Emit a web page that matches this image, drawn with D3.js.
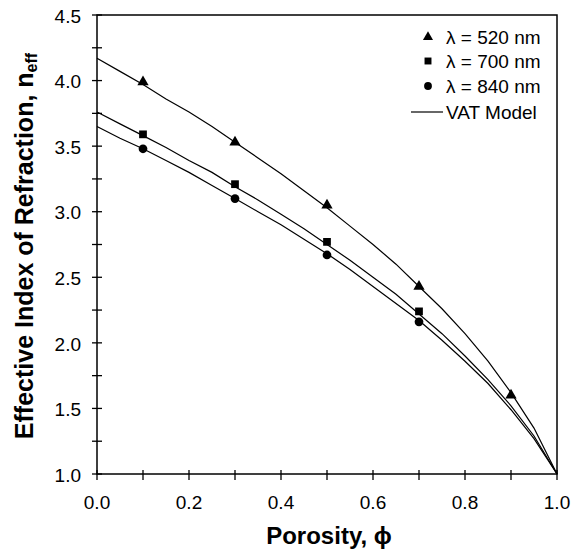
<!DOCTYPE html>
<html>
<head>
<meta charset="utf-8">
<script src="https://cdn.jsdelivr.net/npm/d3@7/dist/d3.min.js"></script>
<style>
  body { margin: 0; background: #fff; }
  svg { display: block; font-family: "Liberation Sans", Arial, sans-serif; }
</style>
</head>
<body>
<div id="chart"></div>
<script>
// measured points (porosity vs n_eff)
const phiMeas = [0.1, 0.3, 0.5, 0.7, 0.9];
const n520 = [3.99, 3.53, 3.05, 2.43, 1.60];
const n700 = [3.59, 3.21, 2.77, 2.24];
const n840 = [3.48, 3.10, 2.67, 2.16];

// VAT model curves
const phiModel = [0, 0.05, 0.1, 0.15, 0.2, 0.25, 0.3, 0.35, 0.4, 0.45, 0.5,
                  0.55, 0.6, 0.65, 0.7, 0.75, 0.8, 0.85, 0.9, 0.95, 1.0];
const vat520 = [4.17, 4.07, 3.97, 3.86, 3.76, 3.65, 3.53, 3.41, 3.29, 3.16, 3.03,
                2.89, 2.75, 2.60, 2.43, 2.26, 2.07, 1.86, 1.62, 1.35, 1.0];
const vat700 = [3.76, 3.67, 3.58, 3.49, 3.39, 3.30, 3.19, 3.09, 2.98, 2.87, 2.75,
                2.63, 2.50, 2.37, 2.22, 2.07, 1.90, 1.72, 1.52, 1.29, 1.0];
const vat840 = [3.65, 3.56, 3.48, 3.39, 3.30, 3.20, 3.10, 3.00, 2.90, 2.79, 2.68,
                2.56, 2.43, 2.30, 2.17, 2.02, 1.86, 1.69, 1.49, 1.27, 1.0];

const legendLabels = ['λ = 520 nm', 'λ = 700 nm', 'λ = 840 nm', 'VAT Model'];

const width = 580, height = 550;
const margin = { top: 15, right: 23, bottom: 76, left: 97 };

const svg = d3.select('#chart').append('svg')
    .attr('width', width)
    .attr('height', height);

const x = d3.scaleLinear().domain([0, 1]).range([margin.left, width - margin.right]);
const y = d3.scaleLinear().domain([1, 4.5]).range([height - margin.bottom, margin.top]);

// frame
svg.append('rect')
    .attr('x', x(0)).attr('y', y(4.5))
    .attr('width', x(1) - x(0)).attr('height', y(1) - y(4.5))
    .style('fill', 'none').style('stroke', '#000').style('stroke-width', 1.5);

// x axis: labels every 0.2, ticks every 0.1
svg.append('g').selectAll('line')
    .data(d3.range(0, 1.0001, 0.1))
    .enter().append('line')
    .attr('x1', d => x(d)).attr('x2', d => x(d))
    .attr('y1', y(1) - 4).attr('y2', y(1) + 6)
    .style('stroke', '#000').style('stroke-width', 1.3);

svg.append('g').selectAll('text')
    .data(d3.range(0, 1.0001, 0.2))
    .enter().append('text')
    .attr('x', d => x(d))
    .attr('y', y(1) + 35)
    .attr('text-anchor', 'middle')
    .style('font-size', '19px')
    .text(d => d3.format('.1f')(d));

// y axis: labels every 0.5, ticks every 0.25
svg.append('g').selectAll('line')
    .data(d3.range(1, 4.5001, 0.25))
    .enter().append('line')
    .attr('x1', x(0) - 5).attr('x2', x(0) + 5)
    .attr('y1', d => y(d)).attr('y2', d => y(d))
    .style('stroke', '#000').style('stroke-width', 1.3);

svg.append('g').selectAll('text')
    .data(d3.range(1, 4.5001, 0.5))
    .enter().append('text')
    .attr('x', x(0) - 16)
    .attr('y', d => y(d) + 1)
    .attr('dy', '0.35em')
    .attr('text-anchor', 'end')
    .style('font-size', '19px')
    .text(d => d3.format('.1f')(d));

// axis titles
svg.append('text')
    .attr('x', 329)
    .attr('y', 544)
    .attr('text-anchor', 'middle')
    .style('font-size', '24px')
    .style('font-weight', 'bold')
    .text('Porosity, ϕ');

const yTitle = svg.append('text')
    .attr('transform', 'translate(33, 246) rotate(-90)')
    .attr('text-anchor', 'middle')
    .style('font-size', '25px')
    .style('font-weight', 'bold');
yTitle.append('tspan').text('Effective Index of Refraction, n');
yTitle.append('tspan').attr('dy', 4).style('font-size', '16px').text('eff');

// model curves
const line = d3.line().x((d, i) => x(phiModel[i])).y(d => y(d));
[vat520, vat700, vat840].forEach(series => {
    svg.append('path')
        .datum(series)
        .attr('d', line)
        .style('fill', 'none')
        .style('stroke', '#000')
        .style('stroke-width', 1.2);
});

// markers
const sym = [d3.symbolTriangle, d3.symbolSquare, d3.symbolCircle];
const symSize = [55, 60, 60];
[n520, n700, n840].forEach((series, k) => {
    svg.append('g').selectAll('path')
        .data(series)
        .enter().append('path')
        .attr('transform', (d, i) => `translate(${x(phiMeas[i])},${y(d)})`)
        .attr('d', d3.symbol().type(sym[k]).size(symSize[k]))
        .style('fill', '#000');
});

// legend
const legend = svg.append('g');
const rowY = [37, 61, 86, 112];
legendLabels.forEach((label, k) => {
    if (k < 3) {
        legend.append('path')
            .attr('transform', `translate(428,${rowY[k]})`)
            .attr('d', d3.symbol().type(sym[k]).size(symSize[k] * 0.8))
            .style('fill', '#000');
    } else {
        legend.append('line')
            .attr('x1', 411).attr('x2', 443)
            .attr('y1', rowY[k]).attr('y2', rowY[k])
            .style('stroke', '#000').style('stroke-width', 1.2);
    }
    legend.append('text')
        .attr('x', 446)
        .attr('y', rowY[k])
        .attr('dy', '0.35em')
        .style('font-size', '19px')
        .text(label);
});
</script>
</body>
</html>
